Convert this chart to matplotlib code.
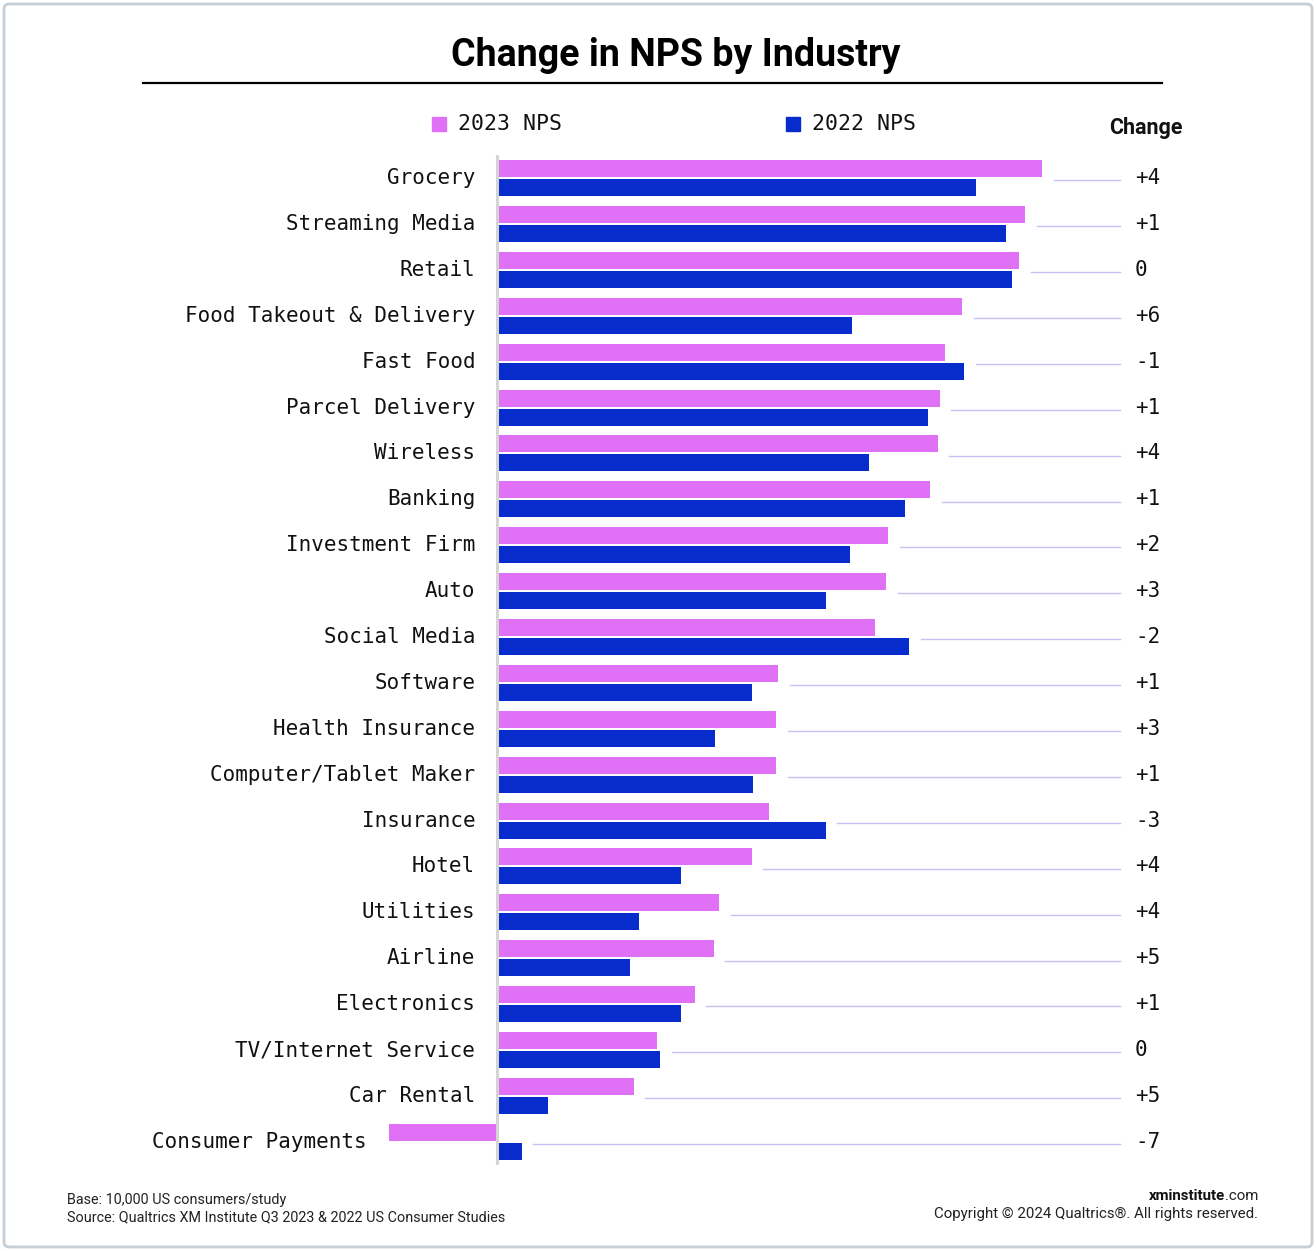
import matplotlib.pyplot as plt
from matplotlib.patches import Rectangle, FancyBboxPatch

categories = ["Grocery", "Streaming Media", "Retail", "Food Takeout & Delivery", "Fast Food",
              "Parcel Delivery", "Wireless", "Banking", "Investment Firm", "Auto", "Social Media",
              "Software", "Health Insurance", "Computer/Tablet Maker", "Insurance", "Hotel",
              "Utilities", "Airline", "Electronics", "TV/Internet Service", "Car Rental",
              "Consumer Payments"]
nps_2023 = [28.7, 27.8, 27.5, 24.5, 23.6, 23.3, 23.2, 22.8, 20.6, 20.5, 19.9,
            14.8, 14.7, 14.7, 14.3, 13.4, 11.7, 11.4, 10.4, 8.4, 7.2, -5.7]
nps_2022 = [25.2, 26.8, 27.1, 18.7, 24.6, 22.7, 19.6, 21.5, 18.6, 17.3, 21.7,
            13.4, 11.5, 13.5, 17.3, 9.7, 7.5, 7.0, 9.7, 8.6, 2.7, 1.3]
changes = ["+4", "+1", "0", "+6", "-1", "+1", "+4", "+1", "+2", "+3", "-2",
           "+1", "+3", "+1", "-3", "+4", "+4", "+5", "+1", "0", "+5", "-7"]

PINK = "#e070f6"
BLUE = "#082ccb"
LINE = "#c9bff0"
MONO = "DejaVu Sans Mono"

W, H = 1316, 1251
fig = plt.figure(figsize=(W / 100, H / 100), dpi=100)

def fx(px):
    return px / W

def fy(py):
    return 1 - py / H

# axes placed so that x=0 sits at px 497, 19 px per point
ax_left, ax_right, ax_top, ax_bot = 143, 1162, 155, 1165
ax = fig.add_axes([fx(ax_left), fy(ax_bot), (ax_right - ax_left) / W, (ax_bot - ax_top) / H])
scale = 19.0
ax.set_xlim(-(497 - ax_left) / scale, (ax_right - 497) / scale)
row_h = 45.9
ax.set_ylim((ax_bot - 178) / row_h, (ax_top - 178) / row_h)
ax.axis("off")

n = len(categories)
ys = list(range(n))
bh = 17 / row_h
off = 9.5 / row_h
ax.barh([y - off for y in ys], nps_2023, height=bh, color=PINK, zorder=2)
ax.barh([y + off for y in ys], nps_2022, height=bh, color=BLUE, zorder=2)
ax.axvline(0, color="#d4d4d4", lw=2.2, zorder=3)

line_end = (1120 - 497) / scale
change_x = (1135 - 497) / scale
for i in range(n):
    lo = min(0, nps_2023[i], nps_2022[i])
    hi = max(0, nps_2023[i], nps_2022[i])
    ax.text(lo - 1.15, i, categories[i], ha="right", va="center", fontsize=15,
            family=MONO, color="#111111")
    ax.plot([hi + 0.6, line_end], [i + 0.05, i + 0.05], color=LINE, lw=1, zorder=1)
    ax.text(change_x, i, changes[i], ha="left", va="center", fontsize=15,
            family=MONO, color="#111111", clip_on=False)

# title and rule
fig.text(fx(676), fy(55), "Change in NPS by Industry", ha="center", va="center",
         fontsize=27, fontweight="bold", family="Roboto", color="black")
fig.add_artist(plt.Line2D([fx(143), fx(1162)], [fy(83), fy(83)], color="black", lw=1.6))

# legend
for x0, col, lab in [(432, PINK, "2023 NPS"), (786, BLUE, "2022 NPS")]:
    fig.add_artist(Rectangle((fx(x0), fy(131)), 14 / W, 14 / H, color=col,
                             transform=fig.transFigure))
    fig.text(fx(x0 + 26), fy(124), lab, ha="left", va="center", fontsize=15.5,
             family=MONO, color="#111111")
fig.text(fx(1146), fy(128), "Change", ha="center", va="center", fontsize=15.5,
         fontweight="bold", family="Roboto", color="#111111")

# footer
fig.text(fx(67), fy(1200), "Base: 10,000 US consumers/study", ha="left", va="center",
         fontsize=10.4, family="Roboto", color="#222222")
fig.text(fx(67), fy(1217), "Source: Qualtrics XM Institute Q3 2023 & 2022 US Consumer Studies",
         ha="left", va="center", fontsize=10.4, family="Roboto", color="#222222")
com = fig.text(fx(1258), fy(1196), ".com", ha="right", va="center", fontsize=10.8,
               family="Roboto", color="#222222")
fig.canvas.draw()
bb = com.get_window_extent(fig.canvas.get_renderer())
fig.text(bb.x0 / W, fy(1196), "xminstitute", ha="right", va="center", fontsize=10.8,
         fontweight="bold", family="Roboto", color="#111111")
fig.text(fx(1258), fy(1214), "Copyright \u00a9 2024 Qualtrics\u00ae. All rights reserved.",
         ha="right", va="center", fontsize=10.8, family="Roboto", color="#222222")

# outer frame
fig.add_artist(FancyBboxPatch((fx(4), fy(1247)), 1308 / W, 1243 / H,
                              boxstyle="round,pad=0,rounding_size=0.004",
                              transform=fig.transFigure, fill=False,
                              edgecolor="#c6ced6", lw=2))

fig.savefig("out.png", dpi=100)
